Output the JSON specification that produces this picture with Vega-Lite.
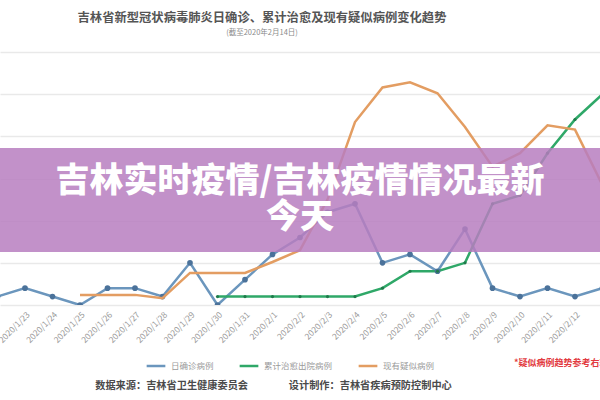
{
  "$schema": "https://vega.github.io/schema/vega-lite/v6.json",
  "width": 600,
  "height": 253,
  "autosize": {"type": "none"},
  "padding": {"left": 0, "top": 52, "right": 0, "bottom": 95},
  "background": "white",
  "config": {
    "font": "Noto Sans CJK SC",
    "view": {"stroke": null}
  },
  "title": {
    "text": "吉林省新型冠状病毒肺炎日确诊、累计治愈及现有疑似病例变化趋势",
    "subtitle": "(截至2020年2月14日)",
    "anchor": "middle",
    "dx": -38,
    "fontSize": 12.3,
    "fontWeight": "bold",
    "color": "#555555",
    "subtitleFontSize": 7.5,
    "subtitleColor": "#8a8a8a",
    "subtitlePadding": 4,
    "offset": 16
  },
  "datasets": {
    "series": [
      {"date": "2020-01-22", "series": "日确诊病例", "value": 1},
      {"date": "2020-01-23", "series": "日确诊病例", "value": 2},
      {"date": "2020-01-24", "series": "日确诊病例", "value": 1},
      {"date": "2020-01-25", "series": "日确诊病例", "value": 0},
      {"date": "2020-01-26", "series": "日确诊病例", "value": 2},
      {"date": "2020-01-27", "series": "日确诊病例", "value": 2},
      {"date": "2020-01-28", "series": "日确诊病例", "value": 1},
      {"date": "2020-01-29", "series": "日确诊病例", "value": 5},
      {"date": "2020-01-30", "series": "日确诊病例", "value": 0},
      {"date": "2020-01-31", "series": "日确诊病例", "value": 3},
      {"date": "2020-02-01", "series": "日确诊病例", "value": 6},
      {"date": "2020-02-02", "series": "日确诊病例", "value": 8},
      {"date": "2020-02-03", "series": "日确诊病例", "value": 11},
      {"date": "2020-02-04", "series": "日确诊病例", "value": 12},
      {"date": "2020-02-05", "series": "日确诊病例", "value": 5},
      {"date": "2020-02-06", "series": "日确诊病例", "value": 6},
      {"date": "2020-02-07", "series": "日确诊病例", "value": 4},
      {"date": "2020-02-08", "series": "日确诊病例", "value": 9},
      {"date": "2020-02-09", "series": "日确诊病例", "value": 2},
      {"date": "2020-02-10", "series": "日确诊病例", "value": 1},
      {"date": "2020-02-11", "series": "日确诊病例", "value": 2},
      {"date": "2020-02-12", "series": "日确诊病例", "value": 1},
      {"date": "2020-02-13", "series": "日确诊病例", "value": 2},
      {"date": "2020-01-30", "series": "累计治愈出院病例", "value": 1},
      {"date": "2020-01-31", "series": "累计治愈出院病例", "value": 1},
      {"date": "2020-02-01", "series": "累计治愈出院病例", "value": 1},
      {"date": "2020-02-02", "series": "累计治愈出院病例", "value": 1},
      {"date": "2020-02-03", "series": "累计治愈出院病例", "value": 1},
      {"date": "2020-02-04", "series": "累计治愈出院病例", "value": 1},
      {"date": "2020-02-05", "series": "累计治愈出院病例", "value": 2},
      {"date": "2020-02-06", "series": "累计治愈出院病例", "value": 4},
      {"date": "2020-02-07", "series": "累计治愈出院病例", "value": 4},
      {"date": "2020-02-08", "series": "累计治愈出院病例", "value": 5},
      {"date": "2020-02-09", "series": "累计治愈出院病例", "value": 12},
      {"date": "2020-02-10", "series": "累计治愈出院病例", "value": 13},
      {"date": "2020-02-11", "series": "累计治愈出院病例", "value": 18},
      {"date": "2020-02-12", "series": "累计治愈出院病例", "value": 22},
      {"date": "2020-02-13", "series": "累计治愈出院病例", "value": 25},
      {"date": "2020-01-25", "series": "现有疑似病例", "value": 12},
      {"date": "2020-01-26", "series": "现有疑似病例", "value": 12},
      {"date": "2020-01-27", "series": "现有疑似病例", "value": 12},
      {"date": "2020-01-28", "series": "现有疑似病例", "value": 8},
      {"date": "2020-01-29", "series": "现有疑似病例", "value": 38},
      {"date": "2020-01-30", "series": "现有疑似病例", "value": 38},
      {"date": "2020-01-31", "series": "现有疑似病例", "value": 38},
      {"date": "2020-02-01", "series": "现有疑似病例", "value": 51},
      {"date": "2020-02-02", "series": "现有疑似病例", "value": 65},
      {"date": "2020-02-03", "series": "现有疑似病例", "value": 125},
      {"date": "2020-02-04", "series": "现有疑似病例", "value": 217},
      {"date": "2020-02-05", "series": "现有疑似病例", "value": 258},
      {"date": "2020-02-06", "series": "现有疑似病例", "value": 264},
      {"date": "2020-02-07", "series": "现有疑似病例", "value": 251},
      {"date": "2020-02-08", "series": "现有疑似病例", "value": 211},
      {"date": "2020-02-09", "series": "现有疑似病例", "value": 164},
      {"date": "2020-02-10", "series": "现有疑似病例", "value": 180},
      {"date": "2020-02-11", "series": "现有疑似病例", "value": 213},
      {"date": "2020-02-12", "series": "现有疑似病例", "value": 208},
      {"date": "2020-02-13", "series": "现有疑似病例", "value": 142}
    ]
  },
  "data": {"name": "series"},
  "encoding": {
    "x": {
      "field": "date",
      "type": "temporal",
      "scale": {
        "type": "utc",
        "nice": false,
        "domain": ["2020-01-22T02:11:00Z", "2020-02-12T21:49:00Z"]
      },
      "axis": {
        "title": "数据来源：吉林省卫生健康委员会　　　　设计制作：吉林省疾病预防控制中心",
        "titleX": 273,
        "titleY": 80,
        "titleAlign": "center",
        "titleBaseline": "middle",
        "titleFontSize": 10.2,
        "titleFontWeight": "bold",
        "titleColor": "#4a4a4a",
        "format": "%Y/%-m/%-d",
        "labelAngle": -45,
        "labelFontSize": 8.5,
        "labelColor": "#9a9a9a",
        "labelPadding": 5,
        "labelOverlap": false,
        "labelFlush": false,
        "labelBound": false,
        "ticks": false,
        "domain": false,
        "grid": false,
        "tickCount": {"interval": "day", "step": 1}
      }
    }
  },
  "layer": [
    {
      "layer": [
        {
          "transform": [{"filter": "datum.series !== '现有疑似病例'"}],
          "mark": {"type": "line", "strokeWidth": 2.5, "clip": true},
          "encoding": {
            "y": {
              "field": "value",
              "type": "quantitative",
              "scale": {"domain": [0, 30], "nice": false},
              "axis": {
                "title": null,
                "labels": false,
                "ticks": false,
                "domain": false,
                "grid": true,
                "values": [0, 5, 10, 15, 20, 25, 30],
                "gridColor": "#e9e9e9",
                "gridWidth": 1.5
              }
            },
            "color": {
              "field": "series",
              "type": "nominal",
              "scale": {
                "domain": ["日确诊病例", "累计治愈出院病例", "现有疑似病例"],
                "range": ["#6b96bd", "#2fa868", "#e39d62"]
              },
              "legend": {
                "orient": "none",
                "legendX": 145,
                "legendY": 303,
                "direction": "horizontal",
                "symbolType": "stroke",
                "symbolStrokeWidth": 2.5,
                "symbolSize": 350,
                "labelFontSize": 8.5,
                "labelColor": "#9a9a9a",
                "columnPadding": 20,
                "title": "*疑似病例趋势参考右轴",
                "titleOrient": "right",
                "titleColor": "#e23a40",
                "titleFontSize": 9,
                "titleFontWeight": "bold",
                "titlePadding": 80,
                "titleBaseline": "middle"
              }
            }
          }
        },
        {
          "transform": [{"filter": "datum.series === '日确诊病例'"}],
          "mark": {"type": "point", "filled": true, "size": 32, "color": "#4b729a", "opacity": 1, "clip": true},
          "encoding": {
            "y": {"field": "value", "type": "quantitative"}
          }
        },
        {
          "transform": [{"filter": "datum.series === '累计治愈出院病例'"}],
          "mark": {"type": "point", "filled": true, "size": 10, "color": "#1f7a4a", "opacity": 1, "clip": true},
          "encoding": {
            "y": {"field": "value", "type": "quantitative"}
          }
        }
      ]
    },
    {
      "layer": [
        {
          "transform": [{"filter": "datum.series === '现有疑似病例'"}],
          "mark": {"type": "line", "strokeWidth": 2.5, "clip": true},
          "encoding": {
            "y": {
              "field": "value",
              "type": "quantitative",
              "scale": {"domain": [0, 300], "nice": false},
              "axis": null
            },
            "color": {"field": "series", "type": "nominal"}
          }
        },
        {
          "transform": [
            {"aggregate": [
              {"op": "min", "field": "date", "as": "start"},
              {"op": "max", "field": "date", "as": "end"}
            ]}
          ],
          "mark": {"type": "rect", "color": "#b77ebf", "opacity": 0.85, "clip": true},
          "encoding": {
            "x": {"field": "start", "type": "temporal"},
            "x2": {"field": "end"},
            "y": {"datum": 186.2, "type": "quantitative"},
            "y2": {"datum": 62.8}
          }
        },
        {
          "data": {"values": [{"label": "吉林实时疫情/吉林疫情情况最新\n今天", "date": "2020-02-02"}]},
          "mark": {
            "type": "text",
            "color": "white",
            "fontSize": 34,
            "fontWeight": 900,
            "align": "center",
            "baseline": "middle",
            "lineBreak": "\n",
            "lineHeight": 36
          },
          "encoding": {
            "y": {"datum": 145.5, "type": "quantitative"},
            "text": {"field": "label"}
          }
        }
      ]
    }
  ],
  "resolve": {"scale": {"y": "independent"}}
}
